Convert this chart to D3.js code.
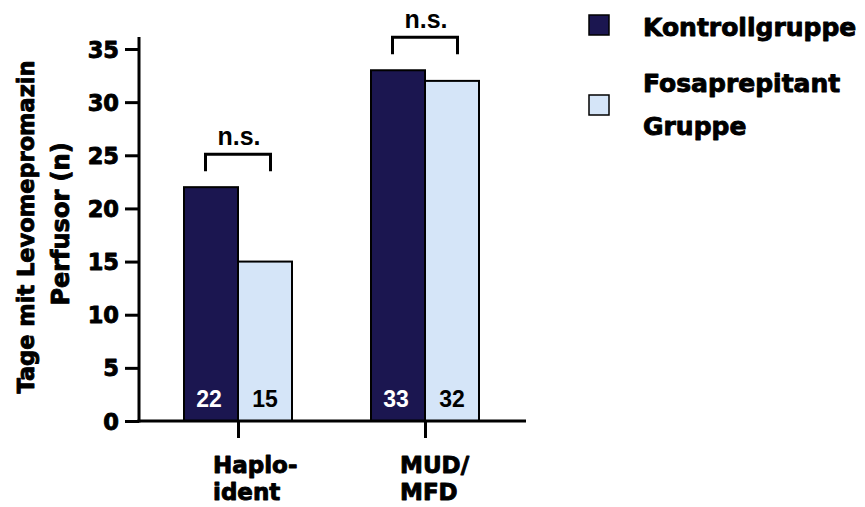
<!DOCTYPE html>
<html>
<head>
<meta charset="utf-8">
<script src="https://cdn.jsdelivr.net/npm/d3@7"></script>
<style>
  html, body { margin: 0; padding: 0; background: #fff; }
  svg { display: block; }
  .heavy { font-family: "DejaVu Sans", sans-serif; font-weight: bold; fill: #000; stroke: #000; stroke-width: 0.9px; stroke-linejoin: round; }
  .arialb { font-family: "Liberation Sans", Arial, sans-serif; font-weight: bold; }
</style>
</head>
<body>
<svg id="chart" width="865" height="507"></svg>
<script>
// Days with levomepromazine perfusor per transplant group
const categories = ["Haplo", "MUD"];
const categoryLabels = [["Haplo-", "ident"], ["MUD/", "MFD"]];
const series = ["Kontrollgruppe", "Fosaprepitant Gruppe"];
const legendLabels = [["Kontrollgruppe"], ["Fosaprepitant", "Gruppe"]];
const kontrollValues = [22, 33];
const fosaprepitantValues = [15, 32];
const yTicks = [0, 5, 10, 15, 20, 25, 30, 35];
const significance = ["n.s.", "n.s."];
const yTitle = ["Tage mit Levomepromazin", "Perfusor (n)"];

const colors = ["#1b1650", "#d5e5f8"];
const labelColors = ["#ffffff", "#000000"];

const svg = d3.select("#chart");

const y = d3.scaleLinear().domain([0, 35]).range([421, 49]);
const x = d3.scalePoint().domain(categories).range([238, 425]);
const xSub = d3.scaleBand().domain(series).range([-54, 54]).padding(0);

const axisX = 139;

// Bars with value labels at their base
const rows = categories.map((c, i) => ({
  cat: c,
  vals: [kontrollValues[i], fosaprepitantValues[i]]
}));

const g = svg.append("g");
rows.forEach(r => {
  r.vals.forEach((v, j) => {
    g.append("rect")
      .attr("x", x(r.cat) + xSub(series[j]))
      .attr("y", y(v))
      .attr("width", xSub.bandwidth())
      .attr("height", y(0) - y(v))
      .attr("fill", colors[j])
      .attr("stroke", "#000")
      .attr("stroke-width", 2);
    g.append("text")
      .attr("class", "arialb")
      .attr("x", x(r.cat) + xSub(series[j]) + xSub.bandwidth() / 2 - (j === 0 ? 2 : 0))
      .attr("y", 407)
      .attr("text-anchor", "middle")
      .attr("font-size", 23)
      .attr("fill", labelColors[j])
      .text(v);
  });
});

// Y axis
const yAxis = d3.axisLeft(y).tickValues(yTicks).tickSize(14).tickPadding(6).tickFormat(d3.format("d"));
const yG = svg.append("g").attr("transform", `translate(${axisX},0)`).call(yAxis);
yG.select(".domain").remove();
yG.selectAll(".tick line").attr("stroke", "#000").attr("stroke-width", 3);
yG.selectAll(".tick text")
  .attr("class", "heavy")
  .attr("font-size", 22.5)
  .attr("dy", "0.36em")
  .style("font-family", "'DejaVu Sans', sans-serif")
  .style("font-weight", "bold")
  .attr("fill", "#000");
svg.append("line")
  .attr("x1", axisX).attr("x2", axisX)
  .attr("y1", 37).attr("y2", y(0) + 1.5)
  .attr("stroke", "#000").attr("stroke-width", 3);

// X axis
const xAxis = d3.axisBottom(x).tickSize(17).tickFormat("");
const xG = svg.append("g").attr("transform", `translate(0,${y(0)})`).call(xAxis);
xG.select(".domain").remove();
xG.selectAll(".tick line").attr("stroke", "#000").attr("stroke-width", 3);
svg.append("line")
  .attr("x1", axisX - 1.5).attr("x2", 526)
  .attr("y1", y(0)).attr("y2", y(0))
  .attr("stroke", "#000").attr("stroke-width", 3);

// Category labels
categories.forEach((c, i) => {
  const t = svg.append("text")
    .attr("class", "heavy")
    .attr("font-size", 23)
    .attr("x", x(c) - 25)
    .attr("y", 473);
  categoryLabels[i].forEach((line, k) => {
    t.append("tspan").attr("x", x(c) - 25).attr("y", 473 + k * 27).text(line);
  });
});

// Y axis title
const yt = svg.append("text")
  .attr("class", "heavy")
  .attr("font-size", 22.5)
  .attr("text-anchor", "middle")
  .attr("transform", "translate(0,227) rotate(-90)");
yt.append("tspan").attr("x", 0).attr("y", 34).text(yTitle[0]);
yt.append("tspan").attr("x", 3).attr("y", 69).attr("font-size", 24).text(yTitle[1]);

// Significance brackets
rows.forEach((r, i) => {
  const top = y(d3.max(r.vals));
  const cx = x(r.cat);
  const hy = top - 33, ly = top - 16;
  svg.append("path")
    .attr("d", `M${cx - 32.5},${ly}V${hy}H${cx + 32.5}V${ly}`)
    .attr("fill", "none")
    .attr("stroke", "#000")
    .attr("stroke-width", 3);
  svg.append("text")
    .attr("class", "arialb")
    .attr("x", cx + 1)
    .attr("y", hy - 9)
    .attr("text-anchor", "middle")
    .attr("font-size", 25)
    .attr("fill", "#000")
    .text(significance[i]);
});

// Legend
const legendSquares = [15, 95];
const legendBaselines = [[36], [92, 135]];
series.forEach((s, j) => {
  svg.append("rect")
    .attr("x", 589).attr("y", legendSquares[j])
    .attr("width", 20).attr("height", 20)
    .attr("fill", colors[j])
    .attr("stroke", "#000").attr("stroke-width", 1.5);
  const t = svg.append("text").attr("class", "heavy").attr("font-size", 25);
  legendLabels[j].forEach((line, k) => {
    t.append("tspan").attr("x", 643).attr("y", legendBaselines[j][k]).text(line);
  });
});
</script>
</body>
</html>
